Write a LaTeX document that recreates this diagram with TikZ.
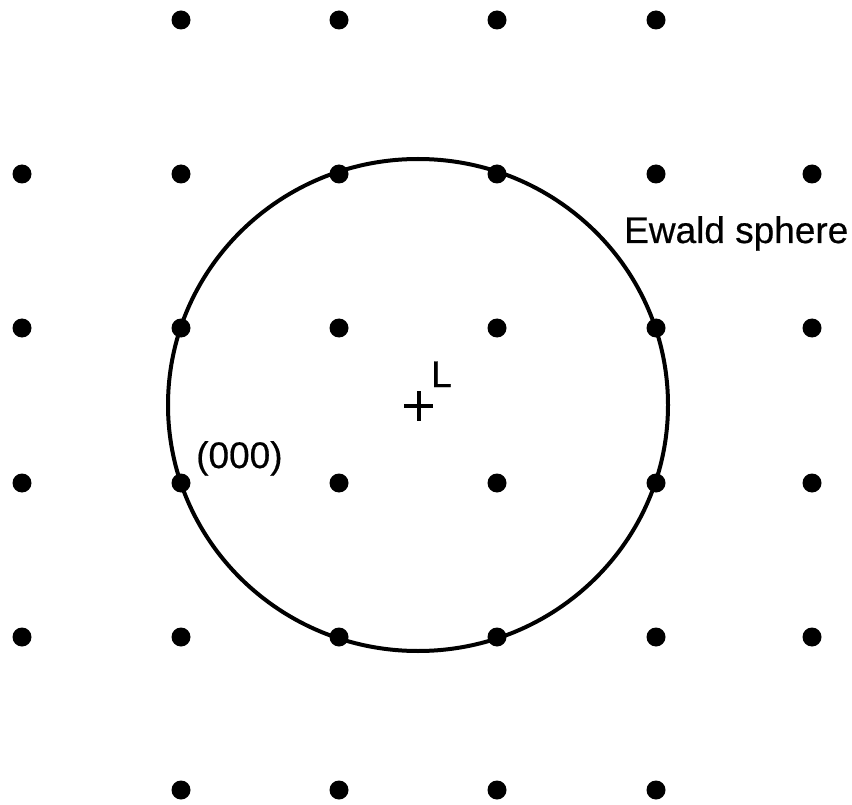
\documentclass[tikz,border=0pt]{standalone}
\usepackage{fontspec}
\setmainfont{Liberation Sans}
\newfontfamily\lblfont[UprightFeatures={FakeBold=0.5}]{Liberation Sans}
\begin{document}
\begin{tikzpicture}[x=1pt,y=-1pt,
  latdot/.style={circle,fill=black,inner sep=0pt,minimum size=19pt},
  lbl/.style={font=\lblfont\fontsize{37}{42}\selectfont,inner sep=0pt}]
\useasboundingbox (0,0) rectangle (852,805);
% Ewald sphere
\coordinate (L) at (418,405);
\draw[line width=4pt] (L) ellipse [x radius=250, y radius=246];
% lattice points
\foreach \x [count=\i] in {22,181,339,497,656,812}{
  \foreach \y [count=\j] in {20,174,328,483,637,790}{
    \pgfmathtruncatemacro{\skip}{((\j==1 || \j==6) && (\i==1 || \i==6)) ? 1 : 0}
    \ifnum\skip=0
      \node[latdot] (p\i\j) at (\x,\y) {};
    \fi
  }
}
% centre cross
\draw[line width=3.5pt] (404,406) -- (433,406) (419,391) -- (419,421);
\node[lbl,anchor=base west] (Llab) at (431,387) {L};
\node[lbl,anchor=base west] (origin) at (196,468) {(000)};
\node[lbl,anchor=base west] (ewald) at (624,243) {Ewald sphere};
\end{tikzpicture}
\end{document}
